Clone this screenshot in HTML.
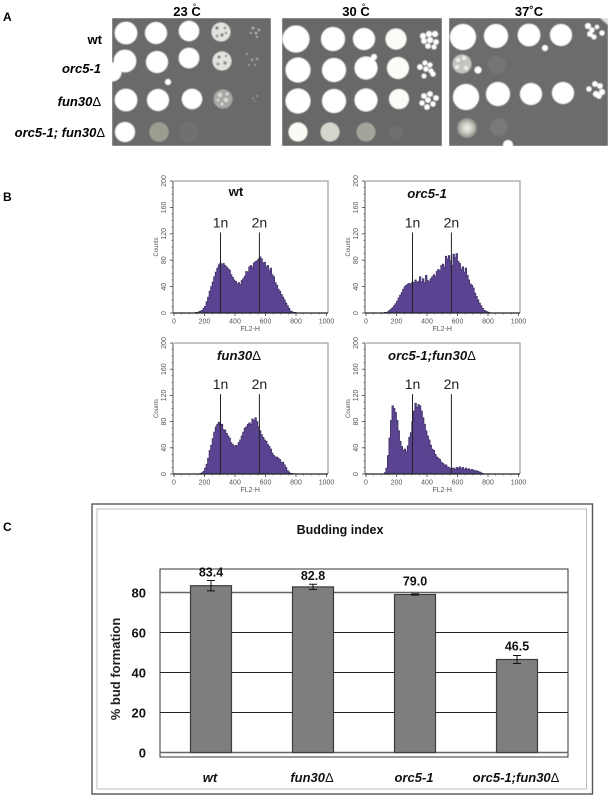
<!DOCTYPE html>
<html><head><meta charset="utf-8">
<style>
html,body{margin:0;padding:0;background:#fff}
svg{display:block}
text{font-family:"Liberation Sans",sans-serif}
</style></head>
<body>
<svg id="fig" xmlns="http://www.w3.org/2000/svg" width="611" height="797" viewBox="0 0 611 797">
<defs>
<filter id="soft" x="-5%" y="-5%" width="110%" height="110%"><feGaussianBlur stdDeviation="0.4"/></filter>
<radialGradient id="glow"><stop offset="0" stop-color="#f4f4ee"/><stop offset="0.55" stop-color="#c8c8c0"/><stop offset="1" stop-color="#8a8a86"/></radialGradient>
<clipPath id="clip1"><rect x="112" y="18" width="159" height="128"/></clipPath>
<clipPath id="clip2"><rect x="282" y="18" width="160" height="128"/></clipPath>
<clipPath id="clip3"><rect x="449" y="18" width="159" height="128"/></clipPath>
</defs>

<text x="3" y="21" font-size="12" font-weight="bold">A</text>
<text x="3" y="201" font-size="12" font-weight="bold">B</text>
<text x="3" y="531" font-size="12" font-weight="bold">C</text>

<text x="187" y="16" font-size="13" font-weight="bold" text-anchor="middle">23 C</text>
<text x="194.5" y="10" font-size="9" text-anchor="middle">°</text>
<text x="356" y="16" font-size="13" font-weight="bold" text-anchor="middle">30 C</text>
<text x="363.5" y="10" font-size="9" text-anchor="middle">°</text>
<text x="529" y="16" font-size="13" font-weight="bold" text-anchor="middle">37˚C</text>

<text x="102" y="44" font-size="13" font-weight="bold" text-anchor="end">wt</text>
<text x="101" y="73" font-size="13" font-weight="bold" font-style="italic" text-anchor="end">orc5-1</text>
<text x="101" y="106" font-size="13" font-weight="bold" font-style="italic" text-anchor="end">fun30<tspan font-style="normal" font-weight="normal">Δ</tspan></text>
<text x="105" y="137" font-size="13" font-weight="bold" font-style="italic" text-anchor="end">orc5-1; fun30<tspan font-style="normal" font-weight="normal">Δ</tspan></text>

<g clip-path="url(#clip1)">
<g filter="url(#soft)" fill="#fff">
<rect x="112" y="18" width="159" height="128" fill="#6a6a6a"/>
<circle cx="126" cy="33" r="11.3"/>
<circle cx="156" cy="33" r="11"/>
<circle cx="189" cy="31" r="10.2"/>
<g><circle cx="221" cy="32" r="9.5" fill="#e2e2de"/><circle cx="217" cy="28" r="1.6" fill="#777"/><circle cx="222" cy="35" r="1.7" fill="#888"/><circle cx="225" cy="28" r="1.3" fill="#888"/><circle cx="217" cy="36" r="1.3" fill="#888"/><circle cx="226" cy="33" r="1.2" fill="#888"/></g>
<g fill="#bbb"><circle cx="253" cy="28" r="1.3"/><circle cx="256" cy="33" r="1.3"/><circle cx="259" cy="30" r="1.2"/><circle cx="251" cy="33" r="1"/><circle cx="257" cy="37" r="1"/></g>
<circle cx="125" cy="61" r="11.3"/>
<circle cx="112" cy="72" r="9.5"/>
<circle cx="157" cy="62" r="11"/>
<circle cx="189" cy="58" r="10.3"/>
<g><circle cx="222" cy="61" r="9.5" fill="#e2e2de"/><circle cx="219" cy="57" r="1.5" fill="#777"/><circle cx="225" cy="63" r="1.7" fill="#888"/><circle cx="218" cy="64" r="1.4" fill="#888"/><circle cx="226" cy="56" r="1.2" fill="#888"/></g>
<g fill="#aaa"><circle cx="247" cy="54" r="1"/><circle cx="252" cy="60" r="1.2"/><circle cx="257" cy="59" r="1.2"/><circle cx="249" cy="65" r="1"/><circle cx="255" cy="65" r="1"/></g>
<circle cx="168" cy="82" r="3"/>
<circle cx="126" cy="100" r="11.3"/>
<circle cx="158" cy="100" r="11"/>
<circle cx="192" cy="99" r="10.2"/>
<g><circle cx="223" cy="99" r="9.5" fill="#a8a8a4"/><circle cx="220" cy="95" r="2" fill="#ddd"/><circle cx="226" cy="100" r="2" fill="#ddd"/><circle cx="222" cy="104" r="1.5" fill="#ddd"/><circle cx="227" cy="94" r="1.5" fill="#ddd"/><circle cx="218" cy="100" r="1.4" fill="#ddd"/></g>
<g fill="#999"><circle cx="253" cy="98" r="1"/><circle cx="257" cy="96" r="1"/><circle cx="255" cy="101" r="0.8"/></g>
<circle cx="125" cy="132" r="10"/>
<circle cx="159" cy="132" r="9.7" fill="#9c9c90"/>
<circle cx="189" cy="132" r="10" fill="#707070"/>
</g></g>

<g clip-path="url(#clip2)">
<g filter="url(#soft)" fill="#fff">
<rect x="282" y="18" width="160" height="128" fill="#676767"/>
<circle cx="296" cy="39" r="13.5"/>
<circle cx="333" cy="39" r="12"/>
<circle cx="364" cy="39" r="11"/>
<circle cx="396" cy="39" r="10.5" fill="#fbfbf7"/>
<g><circle cx="423" cy="36" r="3"/><circle cx="429" cy="34" r="3"/><circle cx="435" cy="34" r="3"/><circle cx="424" cy="41" r="2.8"/><circle cx="430" cy="40" r="3"/><circle cx="436" cy="42" r="2.8"/><circle cx="428" cy="46" r="2.8"/><circle cx="434" cy="47" r="2.5"/></g>
<circle cx="298" cy="70" r="12.5"/>
<circle cx="334" cy="70" r="12"/>
<circle cx="366" cy="68" r="11.5"/>
<circle cx="398" cy="68" r="11" fill="#fbfbf7"/>
<g><circle cx="420" cy="67" r="2.8"/><circle cx="425" cy="63" r="2.5"/><circle cx="430" cy="65" r="2.5"/><circle cx="426" cy="69" r="2.6"/><circle cx="431" cy="71" r="2.5"/><circle cx="433" cy="74" r="2.6"/><circle cx="424" cy="76" r="2.4"/></g>
<circle cx="374" cy="57" r="3"/>
<circle cx="298" cy="101" r="12.5"/>
<circle cx="334" cy="101" r="12"/>
<circle cx="366" cy="100" r="11.5"/>
<circle cx="399" cy="99" r="10" fill="#fbfbf7"/>
<g><circle cx="424" cy="96" r="2.8"/><circle cx="430" cy="94" r="2.8"/><circle cx="436" cy="98" r="2.8"/><circle cx="422" cy="103" r="2.6"/><circle cx="428" cy="100" r="2.8"/><circle cx="433" cy="104" r="2.6"/><circle cx="427" cy="107" r="2.8"/></g>
<circle cx="298" cy="132" r="9.5" fill="#fbfbf6"/>
<circle cx="330" cy="132" r="9.5" fill="#d6d6cc"/>
<circle cx="366" cy="132" r="9.5" fill="#a4a49c"/>
<circle cx="396" cy="133" r="7" fill="#6f6f6f"/>
</g></g>

<g clip-path="url(#clip3)">
<g filter="url(#soft)" fill="#fff">
<rect x="449" y="18" width="159" height="128" fill="#6c6c6c"/>
<polygon points="600,18 608,18 608,25" fill="#ddd"/>
<circle cx="463" cy="37" r="13"/>
<circle cx="496" cy="36" r="12"/>
<circle cx="529" cy="35" r="11.3"/>
<circle cx="561" cy="35" r="11"/>
<g><circle cx="588" cy="26" r="3"/><circle cx="592" cy="30" r="2.6"/><circle cx="590" cy="34" r="2.8"/><circle cx="594" cy="37" r="2.5"/><circle cx="602" cy="33" r="2.6"/><circle cx="597" cy="27" r="2.2"/></g>
<circle cx="545" cy="48" r="3"/>
<g><circle cx="462" cy="64" r="9.5" fill="#c4c4be"/><circle cx="458" cy="60" r="2" fill="#eee"/><circle cx="464" cy="58" r="2" fill="#eee"/><circle cx="457" cy="67" r="2" fill="#eee"/><circle cx="466" cy="68" r="2" fill="#eee"/></g>
<circle cx="478" cy="70" r="3.5"/>
<circle cx="497" cy="65" r="9" fill="#747474"/>
<circle cx="466" cy="97" r="13"/>
<circle cx="498" cy="94" r="12"/>
<circle cx="531" cy="94" r="11"/>
<circle cx="563" cy="93" r="11"/>
<g><circle cx="589" cy="89" r="2.6"/><circle cx="595" cy="84" r="2.8"/><circle cx="600" cy="86" r="2.8"/><circle cx="602" cy="92" r="3"/><circle cx="596" cy="94" r="3"/><circle cx="599" cy="96" r="2.8"/></g>
<circle cx="467" cy="128" r="10" fill="url(#glow)"/>
<circle cx="499" cy="127" r="9" fill="#797979"/>
<circle cx="508" cy="145" r="5"/>
</g></g>

<g id="facs"></g>
<g id="bars"></g>
</svg>

<script>
var histBinStart = 100;
var histBinWidth = 10;
var histWt = [0,0,0,0,1,1,2,3,4,7,10,17,24,33,40,47,55,62,68,73,76,73,75,72,70,67,65,58,54,50,48,44,46,43,49,52,56,63,62,70,72,69,76,78,79,82,85,82,76,77,70,72,64,68,58,55,46,42,36,33,28,24,20,15,11,7,3,2,1,1,0,0,0,0,0];
var histOrc = [0,0,1,1,2,4,6,8,11,14,18,23,27,31,36,40,42,44,45,44,47,46,50,46,48,55,47,52,46,57,49,48,52,55,58,56,63,66,64,72,74,70,86,82,87,79,72,89,84,90,78,75,66,70,62,68,57,50,44,42,38,30,25,20,15,11,7,4,3,2,1,0,0,0,0];
var histFun = [0,0,0,0,0,0,0,1,2,4,9,15,24,36,44,54,64,72,76,79,74,76,68,67,62,58,55,48,45,42,44,43,48,52,58,64,70,72,76,78,76,84,82,86,80,72,66,60,56,52,50,45,42,38,32,28,26,26,24,22,18,18,14,10,5,3,1,1,0,0,0,0,0,0,0];
var histDbl = [0,0,2,9,28,55,82,104,100,94,82,66,50,42,36,38,34,43,56,63,80,96,108,102,106,104,96,86,76,66,58,52,44,38,36,30,26,24,22,18,16,14,14,11,10,8,9,9,7,10,9,11,8,10,7,9,7,8,6,7,6,5,5,4,3,2,1,0,0,0,0,0,0,0,0];
var xTicks = [0,200,400,600,800,1000];
var yTicks = [0,40,80,120,160,200];
var xMinorTicks = [50,100,150,250,300,350,450,500,550,650,700,750,850,900,950];
var yMinorTicks = [10,20,30,50,60,70,90,100,110,130,140,150,170,180,190];
var ploidyMarks = [305,560];
var ploidyNames = ["1n","2n"];

var budCategories = ["wt","fun30","orc5-1","orc5-1;fun30"];
var budValues = [83.4,82.8,79.0,46.5];
var budErrors = [2.6,1.3,0.3,2.0];
var budLabels = ["83.4","82.8","79.0","46.5"];
var budTicks = [0,20,40,60,80];

var NS = "http://www.w3.org/2000/svg";

function make(tag, parent, attrs, txt){
  var el = document.createElementNS(NS, tag);
  for (var k in attrs) el.setAttribute(k, attrs[k]);
  if (txt !== undefined) el.textContent = txt;
  parent.appendChild(el);
  return el;
}

function drawHistogram(parent, values, x0, top, bottom, right, title, titleX, hasDelta, key){
  var g = make("g", parent, {});
  
  
  var xs = function(v){ return x0 + v * 0.1525; };
  var ys = function(v){ return bottom - v * (bottom - top) / 200; };

  var frame = make("path", g, {d:"M"+x0+" "+top+"H"+right+"V"+bottom, fill:"none", stroke:"#888", "stroke-width":1});
  
  

  var d = "M" + xs(histBinStart) + " " + ys(0);
  values.forEach(function(v,i){
    var a = histBinStart + i * histBinWidth;
    d += "L" + xs(a) + " " + ys(v) + "L" + xs(a + histBinWidth) + " " + ys(v);
  });
  d += "L" + xs(histBinStart + values.length * histBinWidth) + " " + ys(0) + "Z";
  var area = make("path", g, {d:d, fill:"#5a4491", stroke:"#3a2c60", "stroke-width":0.7});
  
  

  var xAxis = make("line", g, {x1:x0-1, x2:right, y1:bottom, y2:bottom, stroke:"#222", "stroke-width":1.2});
  
  
  var yAxis = make("line", g, {x1:x0-1, x2:x0-1, y1:top, y2:bottom, stroke:"#555", "stroke-width":1});
  
  

  xMinorTicks.forEach(function(t){
    var tick = make("line", g, {x1:xs(t), x2:xs(t), y1:bottom, y2:bottom+1.5, stroke:"#555", "stroke-width":0.7});
    
    
  });
  yMinorTicks.forEach(function(t){
    var tick = make("line", g, {x1:x0-2.5, x2:x0-1, y1:ys(t), y2:ys(t), stroke:"#555", "stroke-width":0.7});
    
    
  });
  xTicks.forEach(function(t){
    var tick = make("line", g, {x1:xs(t), x2:xs(t), y1:bottom, y2:bottom+3, stroke:"#444", "stroke-width":0.8});
    
    
    var lab = make("text", g, {x:xs(t), y:bottom+10.5, "font-size":7, fill:"#555", "text-anchor":"middle"}, String(t));
    
    
  });
  yTicks.forEach(function(t){
    var tick = make("line", g, {x1:x0-4, x2:x0-1, y1:ys(t), y2:ys(t), stroke:"#444", "stroke-width":0.8});
    
    
    var lab = make("text", g, {x:0, y:0, "font-size":7, fill:"#555", "text-anchor":"middle", transform:"translate("+(x0-8)+" "+ys(t)+") rotate(-90)"}, String(t));
    
    
  });
  var xt = make("text", g, {x:xs(500), y:bottom+18, "font-size":7, fill:"#555", "text-anchor":"middle"}, "FL2-H");
  
  
  var yt = make("text", g, {x:0, y:0, "font-size":6, fill:"#555", "text-anchor":"middle", transform:"translate("+(x0-16)+" "+ys(100)+") rotate(-90)"}, "Counts");
  
  

  ploidyMarks.forEach(function(m,i){
    var ln = make("line", g, {x1:xs(m), x2:xs(m), y1:ys(122), y2:bottom, stroke:"#222", "stroke-width":1});
    
    
    var lb = make("text", g, {x:xs(m), y:ys(122)-5, "font-size":14, fill:"#222", "text-anchor":"middle"}, ploidyNames[i]);
    
    
  });

  var tt = make("text", g, {x:titleX, y:top+(key === "wt" ? 15 : 17), "font-size":13.2, "font-weight":"bold", "font-style":key === "wt" ? "normal" : "italic", "text-anchor":"middle", fill:"#111"}, title);
  
  
  if (hasDelta) make("tspan", tt, {"font-style":"normal","font-weight":"normal"}, "Δ");
}

var facs = document.getElementById("facs");
drawHistogram(facs, histWt, 174, 181, 313, 328, "wt", 236, false, "wt");
drawHistogram(facs, histOrc, 366, 181, 313, 520, "orc5-1", 427, false, "orc5-1");
drawHistogram(facs, histFun, 174, 343, 474, 328, "fun30", 239, true, "fun30");
drawHistogram(facs, histDbl, 366, 343, 474, 520, "orc5-1;fun30", 432, true, "double");

/* Bar chart */
var plotL = 160, plotR = 568, plotT = 569, plotB = 757, zeroY = 752.5;
var bars = document.getElementById("bars");
function yBar(v){ return zeroY - v * 2; }
function xBand(i){ return plotL + (plotR - plotL) * (i + 0.5) / budCategories.length; }

var outer = make("rect", bars, {x:92, y:504, width:500.5, height:290, fill:"#fff", stroke:"#555", "stroke-width":1.4});


var inner = make("rect", bars, {x:97, y:509, width:489.5, height:280, fill:"none", stroke:"#bdbdbd", "stroke-width":1});



var chartTitle = make("text", bars, {x:340, y:534, "font-size":12.5, "font-weight":"bold", "text-anchor":"middle", fill:"#111"}, "Budding index");



var plotBox = make("rect", bars, {x:plotL, y:plotT, width:plotR-plotL, height:plotB-plotT, fill:"#fff", stroke:"#333", "stroke-width":1});



budTicks.forEach(function(t){
  var gl = make("line", bars, {x1:plotL, x2:plotR, y1:yBar(t), y2:yBar(t), stroke:(t===80||t===0)?"#666":"#222", "stroke-width":(t===80||t===0)?1.4:1});
  
  
  var lb = make("text", bars, {x:146, y:yBar(t)+5, "font-size":13, "font-weight":"bold", "text-anchor":"end", fill:"#111"}, String(t));
  
  
});

var yTitle = make("text", bars, {x:0, y:0, "font-size":13, "font-weight":"bold", "text-anchor":"middle", fill:"#222", transform:"translate(120 669) rotate(-90)"}, "% bud formation");



budValues.forEach(function(v,i){
  var cx = xBand(i);
  var bar = make("rect", bars, {x:cx-20.5, y:yBar(v), width:41, height:yBar(0)-yBar(v), fill:"#7e7e7e", stroke:"#3c3c3c", "stroke-width":1.2});
  
  
  var e = budErrors[i];
  var eb = make("path", bars, {d:"M"+cx+" "+yBar(v+e)+"V"+yBar(v-e)+"M"+(cx-4)+" "+yBar(v+e)+"H"+(cx+4)+"M"+(cx-4)+" "+yBar(v-e)+"H"+(cx+4), fill:"none", stroke:"#111", "stroke-width":1});
  
  
  var val = make("text", bars, {x:cx, y:yBar(v)-(i===1?7:9), "font-size":12.5, "font-weight":"bold", "text-anchor":"middle", fill:"#111"}, budLabels[i]);
  
  
  var cat = make("text", bars, {x:cx-1, y:782, "font-size":13, "font-weight":"bold", "font-style":"italic", "text-anchor":"middle", fill:"#111"}, budCategories[i]);
  
  
  if (i === 1 || i === 3) make("tspan", cat, {"font-style":"normal","font-weight":"normal"}, "Δ");
});
</script>
</body></html>
